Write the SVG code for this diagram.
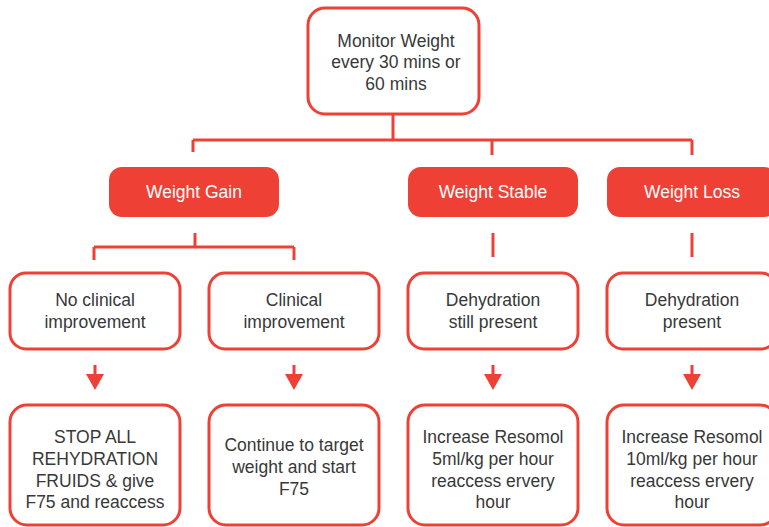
<svg xmlns="http://www.w3.org/2000/svg" width="769" height="527" viewBox="0 0 769 527">
  <defs>
    <marker id="arrowHead" markerWidth="16" markerHeight="18" refX="0" refY="9" orient="auto" markerUnits="userSpaceOnUse" viewBox="0 0 16 18">
      <path d="M0,0 L16,9 L0,18 Z" fill="#EF4036"/>
    </marker>
    <style>
      .box { fill: #fff; stroke: #EF4036; stroke-width: 3; }
      .tag { fill: #EF4036; }
      .wire { fill: none; stroke: #EF4036; stroke-width: 3; }
      .txt { font-family: "Liberation Sans", Arial, sans-serif; font-size: 17.5px; fill: #383838; text-anchor: middle; }
      .tagtxt { font-family: "Liberation Sans", Arial, sans-serif; font-size: 17.5px; fill: #fff; text-anchor: middle; }
    </style>
  </defs>
  <rect width="769" height="527" fill="#fff"/>

  <!-- connectors -->
  <g id="connectors">
    <path class="wire" d="M393,114 V140 M193,140 H692 M193,140 V152 M492,140 V155 M692,140 V155"/>
    <path class="wire" d="M195,233 V247 M94,247 H294 M94,247 V260 M294,247 V260"/>
    <path class="wire" d="M493,233 V257 M692,233 V257"/>
    <path class="wire" d="M95,365 V374" marker-end="url(#arrowHead)"/>
    <path class="wire" d="M294,365 V374" marker-end="url(#arrowHead)"/>
    <path class="wire" d="M493,365 V374" marker-end="url(#arrowHead)"/>
    <path class="wire" d="M692,365 V374" marker-end="url(#arrowHead)"/>
  </g>

  <!-- top node -->
  <g id="monitor">
    <rect class="box" x="308" y="8" width="171" height="106" rx="17"/>
    <text class="txt" x="396" y="47">Monitor Weight</text>
    <text class="txt" x="396" y="68">every 30 mins or</text>
    <text class="txt" x="396" y="90">60 mins</text>
  </g>

  <!-- outcome tags -->
  <g id="weight-gain">
    <rect class="tag" x="109" y="167" width="170" height="50" rx="13"/>
    <text class="tagtxt" x="194" y="198">Weight Gain</text>
  </g>
  <g id="weight-stable">
    <rect class="tag" x="408" y="167" width="170" height="50" rx="13"/>
    <text class="tagtxt" x="493" y="198">Weight Stable</text>
  </g>
  <g id="weight-loss">
    <rect class="tag" x="607" y="167" width="170" height="50" rx="13"/>
    <text class="tagtxt" x="692" y="198">Weight Loss</text>
  </g>

  <!-- assessment row -->
  <g id="no-clinical">
    <rect class="box" x="10" y="273" width="170" height="76" rx="16"/>
    <text class="txt" x="95" y="306">No clinical</text>
    <text class="txt" x="95" y="328">improvement</text>
  </g>
  <g id="clinical">
    <rect class="box" x="209" y="273" width="170" height="76" rx="16"/>
    <text class="txt" x="294" y="306">Clinical</text>
    <text class="txt" x="294" y="328">improvement</text>
  </g>
  <g id="dehydration-still">
    <rect class="box" x="408" y="273" width="170" height="76" rx="16"/>
    <text class="txt" x="493" y="306">Dehydration</text>
    <text class="txt" x="493" y="328">still present</text>
  </g>
  <g id="dehydration">
    <rect class="box" x="607" y="273" width="170" height="76" rx="16"/>
    <text class="txt" x="692" y="306">Dehydration</text>
    <text class="txt" x="692" y="328">present</text>
  </g>

  <!-- action row -->
  <g id="stop-fluids">
    <rect class="box" x="10" y="405" width="170" height="120" rx="17"/>
    <text class="txt" x="95" y="443">STOP ALL</text>
    <text class="txt" x="95" y="465">REHYDRATION</text>
    <text class="txt" x="95" y="487">FRUIDS &amp; give</text>
    <text class="txt" x="95" y="508">F75 and reaccess</text>
  </g>
  <g id="continue">
    <rect class="box" x="209" y="405" width="170" height="120" rx="17"/>
    <text class="txt" x="294" y="451">Continue to target</text>
    <text class="txt" x="294" y="473">weight and start</text>
    <text class="txt" x="294" y="495">F75</text>
  </g>
  <g id="resomol-5">
    <rect class="box" x="408" y="405" width="170" height="120" rx="17"/>
    <text class="txt" x="493" y="443">Increase Resomol</text>
    <text class="txt" x="493" y="465">5ml/kg per hour</text>
    <text class="txt" x="493" y="487">reaccess ervery</text>
    <text class="txt" x="493" y="508">hour</text>
  </g>
  <g id="resomol-10">
    <rect class="box" x="607" y="405" width="170" height="120" rx="17"/>
    <text class="txt" x="692" y="443">Increase Resomol</text>
    <text class="txt" x="692" y="465">10ml/kg per hour</text>
    <text class="txt" x="692" y="487">reaccess ervery</text>
    <text class="txt" x="692" y="508">hour</text>
  </g>
</svg>
